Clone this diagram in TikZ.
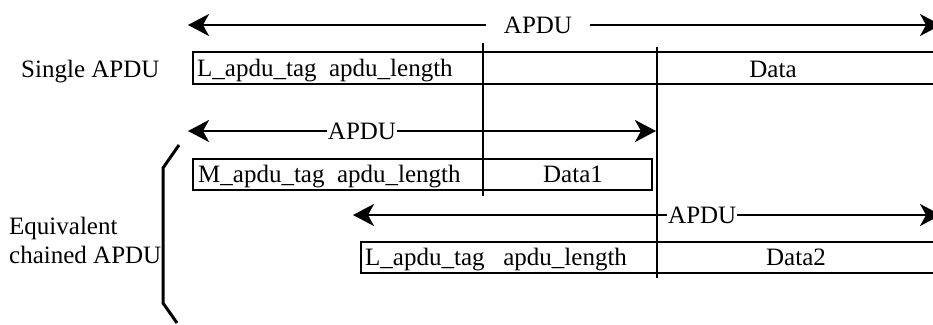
\documentclass[tikz,border=0pt]{standalone}
\usepackage{fontspec}
\setmainfont{Liberation Serif}
\usetikzlibrary{arrows.meta}
\begin{document}
\begin{tikzpicture}[x=1pt,y=-1pt,line width=2.4pt,line join=miter,
  txt/.style={font=\fontsize{25}{30}\selectfont,inner sep=0pt},
  lbl/.style={txt,fill=white,inner xsep=1pt,inner ysep=0pt},
  dimarrow/.style={{Stealth[length=21pt,width=22pt,inset=6pt]}-{Stealth[length=21pt,width=22pt,inset=6pt]},line width=2.4pt},
  frame/.style={line width=2.4pt},
  brace/.style={line width=3pt}]
\useasboundingbox (0,0) rectangle (933,324);
% coordinates
\coordinate (a1l) at (188,25);  \coordinate (a1r) at (941,25);
\coordinate (a2l) at (188,131); \coordinate (a2r) at (656,131);
\coordinate (a3l) at (353,215); \coordinate (a3r) at (941,215);
\coordinate (v1t) at (483,43);  \coordinate (v1b) at (483,196);
\coordinate (v2t) at (657,47);  \coordinate (v2b) at (657,278);
\coordinate (b1) at (179,145); \coordinate (b2) at (163,168);
\coordinate (b3) at (163,303); \coordinate (b4) at (177,323);
% boxes
\draw[frame] (936,52) -- (193,52) -- (193,84) -- (936,84);
\draw[frame] (193,159) rectangle (652,190);
\draw[frame] (936,242) -- (361,242) -- (361,273) -- (936,273);
% verticals
\draw[frame] (v1t) -- (v1b);
\draw[frame] (v2t) -- (v2b);
% arrows
\draw[dimarrow] (a1l) -- (a1r);
\draw[dimarrow] (a2l) -- (a2r);
\draw[dimarrow] (a3l) -- (a3r);
\node[lbl,inner xsep=18pt] (apdu1) at (538,25) {APDU};
\node[lbl] (apdu2) at (362,131) {APDU};
\node[lbl,anchor=west] (apdu3) at (666,215) {APDU};
% brace
\draw[brace] (b1) -- (b2) -- (b3) -- (b4);
% texts
\node[txt,anchor=base west] (single) at (20,77) {Single APDU};
\node[txt,anchor=base west] (lrow1) at (196,76) {L\_apdu\_tag\ \ apdu\_length};
\node[txt,anchor=base] (data) at (773,77) {Data};
\node[txt,anchor=base west] (mrow) at (197,182) {M\_apdu\_tag\ \ apdu\_length};
\node[txt,anchor=base] (data1) at (573,182) {Data1};
\node[txt,anchor=base west] (lrow2) at (364,265) {L\_apdu\_tag\ \ \ apdu\_length};
\node[txt,anchor=base] (data2) at (796,265) {Data2};
\node[txt,anchor=base west] (equiv) at (8,234) {Equivalent};
\node[txt,anchor=base west] (chained) at (8,263) {chained APDU};
\end{tikzpicture}
\end{document}
